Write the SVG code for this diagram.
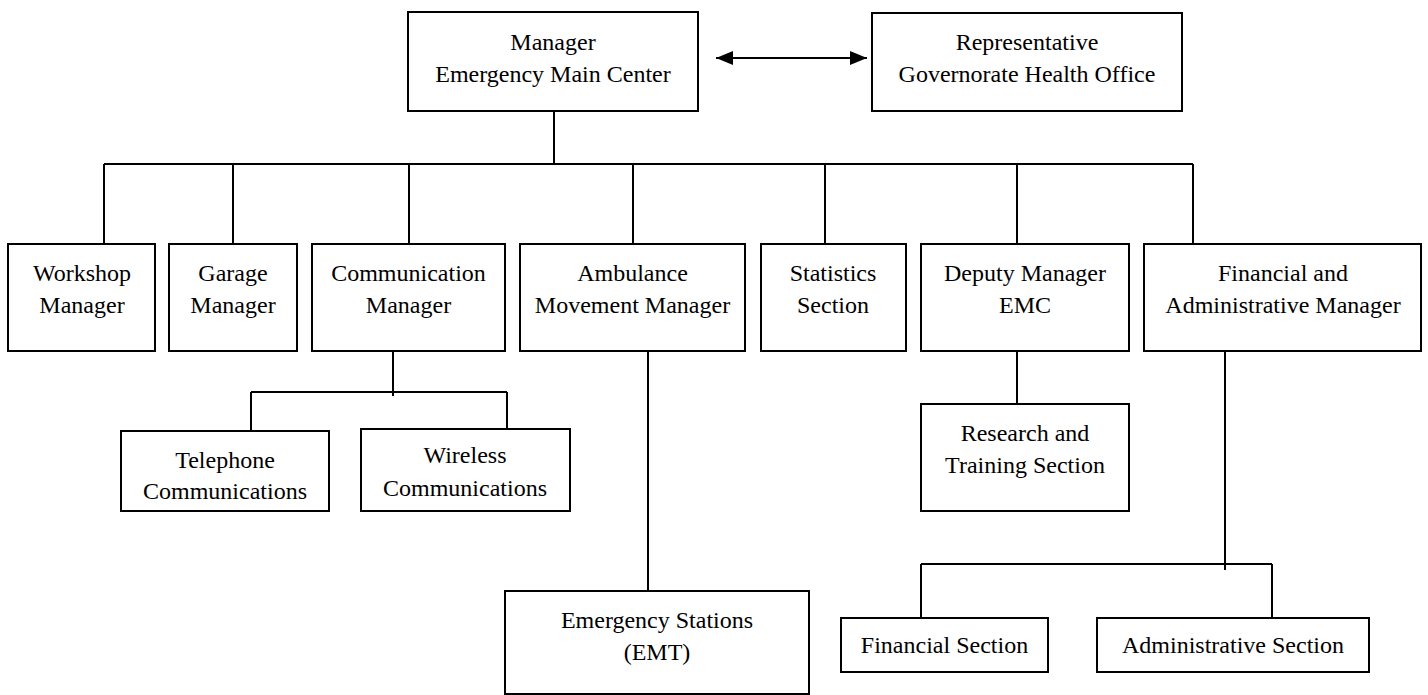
<svg xmlns="http://www.w3.org/2000/svg" width="1428" height="695" viewBox="0 0 1428 695">
<style>
.box{fill:#fff;stroke:#000;stroke-width:2}
.ln{fill:none;stroke:#000;stroke-width:2}
text{font-family:"Liberation Serif","Times New Roman",serif;font-size:24px;fill:#000;text-anchor:middle}
</style>
<defs>
<marker id="ah" markerUnits="userSpaceOnUse" markerWidth="18" markerHeight="14" refX="17" refY="7" orient="auto-start-reverse">
<path d="M0,0 L17,7 L0,14 z" fill="#000"/>
</marker>
</defs>
<rect width="1428" height="695" fill="#fff"/>
<g id="connectors">
<line class="ln" x1="716" y1="58" x2="867" y2="58" marker-start="url(#ah)" marker-end="url(#ah)"/>
<path class="ln" d="M554,111 V164"/>
<path class="ln" d="M104,164 H1193"/>
<path class="ln" d="M104,164 V244 M233,164 V244 M409,164 V244 M633,164 V244 M825,164 V244 M1017,164 V244 M1193,164 V244"/>
<path class="ln" d="M393,351 V396 M251,392 H507 M251,392 V431 M507,392 V432"/>
<path class="ln" d="M648,351 V591"/>
<path class="ln" d="M1017,351 V404"/>
<path class="ln" d="M1225,351 V570 M921,564 H1272 M921,564 V618 M1272,564 V618"/>
</g>
<g id="manager"><rect class="box" x="408" y="12" width="290" height="99"/><text x="553" y="50">Manager</text><text x="553" y="82">Emergency Main Center</text></g>
<g id="representative"><rect class="box" x="872" y="13" width="310" height="98"/><text x="1027" y="50">Representative</text><text x="1027" y="82">Governorate Health Office</text></g>
<g id="workshop"><rect class="box" x="8" y="244" width="147" height="107"/><text x="82" y="281">Workshop</text><text x="82" y="313">Manager</text></g>
<g id="garage"><rect class="box" x="169" y="244" width="128" height="107"/><text x="233" y="281">Garage</text><text x="233" y="313">Manager</text></g>
<g id="communication"><rect class="box" x="312" y="244" width="193" height="107"/><text x="408.5" y="281">Communication</text><text x="408.5" y="313">Manager</text></g>
<g id="ambulance"><rect class="box" x="520" y="244" width="225" height="107"/><text x="632.5" y="281">Ambulance</text><text x="632.5" y="313">Movement Manager</text></g>
<g id="statistics"><rect class="box" x="761" y="244" width="145" height="107"/><text x="833" y="281">Statistics</text><text x="833" y="313">Section</text></g>
<g id="deputy"><rect class="box" x="921" y="244" width="208" height="107"/><text x="1025" y="281">Deputy Manager</text><text x="1025" y="313">EMC</text></g>
<g id="finadmin"><rect class="box" x="1144" y="244" width="277" height="107"/><text x="1283" y="281">Financial and</text><text x="1283" y="313">Administrative Manager</text></g>
<g id="telephone"><rect class="box" x="121" y="431" width="208" height="80"/><text x="225" y="468">Telephone</text><text x="225" y="499">Communications</text></g>
<g id="wireless"><rect class="box" x="361" y="429" width="209" height="82"/><text x="465" y="463">Wireless</text><text x="465" y="496">Communications</text></g>
<g id="research"><rect class="box" x="921" y="404" width="208" height="107"/><text x="1025" y="441">Research and</text><text x="1025" y="473">Training Section</text></g>
<g id="stations"><rect class="box" x="505" y="591" width="304" height="103"/><text x="657" y="628">Emergency Stations</text><text x="657" y="660">(EMT)</text></g>
<g id="financial"><rect class="box" x="841" y="618" width="207" height="54"/><text x="944.5" y="653">Financial Section</text></g>
<g id="administrative"><rect class="box" x="1097" y="618" width="272" height="54"/><text x="1233" y="653">Administrative Section</text></g>
</svg>
